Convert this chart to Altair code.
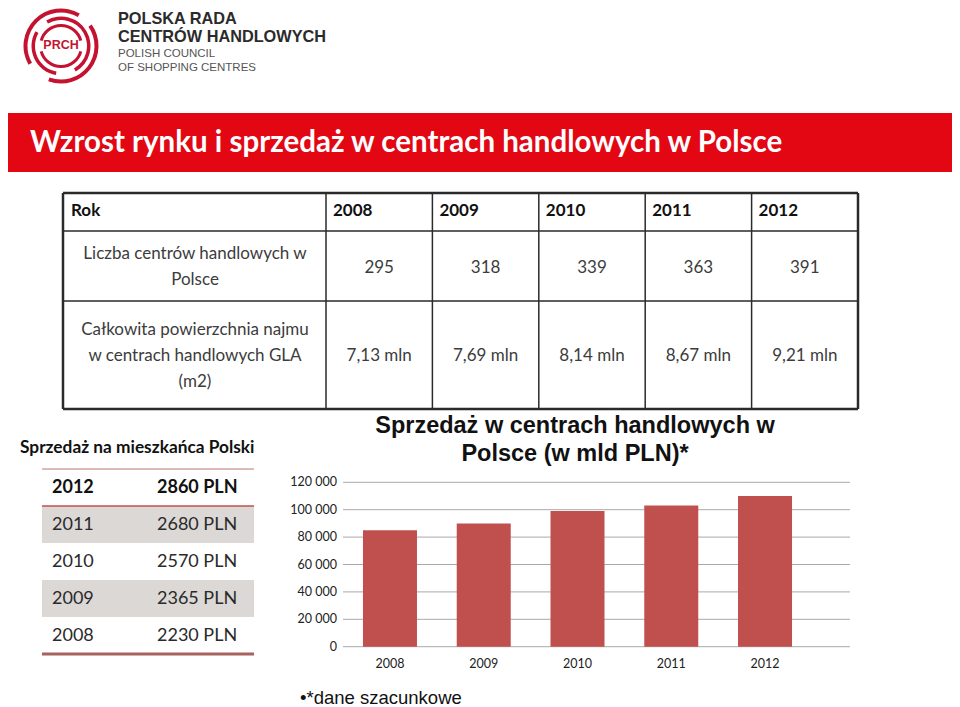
import altair as alt
import pandas as pd

# ---------------- data ----------------
years = ["2008", "2009", "2010", "2011", "2012"]
header_label = "Rok"
centers_count = ["295", "318", "339", "363", "391"]
gla_values = ["7,13 mln", "7,69 mln", "8,14 mln", "8,67 mln", "9,21 mln"]
row_labels = [
    "Liczba centrów handlowych w\nPolsce",
    "Całkowita powierzchnia najmu\nw centrach handlowych GLA\n(m2)",
]

per_capita_title = "Sprzedaż na mieszkańca Polski"
per_capita_years = ["2012", "2011", "2010", "2009", "2008"]
per_capita_values = ["2860 PLN", "2680 PLN", "2570 PLN", "2365 PLN", "2230 PLN"]

sales_title = "Sprzedaż w centrach handlowych w\nPolsce (w mld PLN)*"
sales_values = [85000, 90000, 99000, 103000, 110000]
y_ticks = [0, 20000, 40000, 60000, 80000, 100000, 120000]
y_tick_labels = ["0", "20 000", "40 000", "60 000", "80 000", "100 000", "120 000"]
footnote = "•*dane szacunkowe"

slide_title = "Wzrost rynku i sprzedaż w centrach handlowych w Polsce"
logo_lines = ["POLSKA RADA", "CENTRÓW HANDLOWYCH", "POLISH COUNCIL", "OF SHOPPING CENTRES"]
logo_mark = "PRCH"
# logo ring segments (degrees, clockwise from 12 o'clock)
outer_start = [-120, 55]
outer_end = [30, 200]
middle_start = [-30, 190]
middle_end = [150, 300]
inner_start = [-75, 105]
inner_end = [75, 255]

CAL = "Lato"
ARIAL = "Liberation Sans"
RED = "#e30613"
LOGO_RED = "#c41230"
BAR = "#c0504d"

one = pd.DataFrame({"k": [0]})


def hline(y, x1, x2, color, w):
    return alt.Chart(one).mark_rule(color=color, strokeWidth=w).encode(
        y=alt.value(y), x=alt.value(x1), x2=alt.value(x2))


def vline(x, y1, y2, color, w):
    return alt.Chart(one).mark_rule(color=color, strokeWidth=w).encode(
        x=alt.value(x), y=alt.value(y1), y2=alt.value(y2))


# ---------------- logo ----------------
LCX, LCY = 53, 38


def ring(starts, ends, r_in, r_out):
    df = pd.DataFrame({"start": starts, "end": ends})
    return alt.Chart(df).transform_calculate(
        s="datum.start * PI / 180", e="datum.end * PI / 180"
    ).mark_arc(radius=r_out, radius2=r_in, color=LOGO_RED).encode(
        theta=alt.Theta("s:Q", scale=None), theta2="e:Q",
        x=alt.value(LCX), y=alt.value(LCY))


logo_txt = pd.DataFrame({"t": logo_lines})
logo = alt.layer(
    ring(outer_start, outer_end, 33.5, 37.5),
    ring(middle_start, middle_end, 26, 29.5),
    ring(inner_start, inner_end, 19, 22),
    alt.Chart(pd.DataFrame({"t": [logo_mark]})).mark_text(
        font=ARIAL, fontWeight="bold", fontSize=12.5, color=LOGO_RED, align="center", baseline="middle"
    ).encode(text="t:N", x=alt.value(LCX), y=alt.value(LCY - 1)),
    alt.Chart(logo_txt.iloc[[0]]).mark_text(
        font=ARIAL, fontWeight="bold", fontSize=16.3, color="#2b2b2b", align="left", baseline="middle"
    ).encode(text="t:N", x=alt.value(110), y=alt.value(11)),
    alt.Chart(logo_txt.iloc[[1]]).mark_text(
        font=ARIAL, fontWeight="bold", fontSize=16.3, color="#2b2b2b", align="left", baseline="middle"
    ).encode(text="t:N", x=alt.value(110), y=alt.value(29)),
    alt.Chart(logo_txt.iloc[[2]]).mark_text(
        font=ARIAL, fontSize=11.5, color="#555555", align="left", baseline="middle"
    ).encode(text="t:N", x=alt.value(110), y=alt.value(46)),
    alt.Chart(logo_txt.iloc[[3]]).mark_text(
        font=ARIAL, fontSize=11.5, color="#555555", align="left", baseline="middle"
    ).encode(text="t:N", x=alt.value(110), y=alt.value(60)),
)

# ---------------- banner ----------------
banner = alt.layer(
    alt.Chart(one).mark_rect(color=RED).encode(
        x=alt.value(0), x2=alt.value(944), y=alt.value(105), y2=alt.value(164)),
    alt.Chart(pd.DataFrame({"t": [slide_title]})).mark_text(
        font=CAL, fontWeight="bold", fontSize=29.5, color="white", align="left", baseline="middle"
    ).encode(text="t:N", x=alt.value(22), y=alt.value(135)),
)

# ---------------- big table ----------------
tx = alt.Scale(type="band", domain=years, range=[318, 850], paddingInner=0, paddingOuter=0)
big_df = pd.DataFrame({"year": years, "count": centers_count, "gla": gla_values})
LINE = "#2a2a2a"
TXT = "#3c3c3c"
big_table = alt.layer(
    hline(185, 55, 850, LINE, 2.5),
    hline(223, 55, 850, LINE, 1.5),
    hline(293, 55, 850, LINE, 1.5),
    hline(401, 55, 850, LINE, 2.5),
    vline(55, 185, 401, LINE, 2.5),
    vline(850, 185, 401, LINE, 2.5),
    alt.Chart(big_df).mark_rule(color=LINE, strokeWidth=1.5).encode(
        x=alt.X("year:N", scale=tx, axis=None, bandPosition=0),
        y=alt.value(185), y2=alt.value(401)),
    alt.Chart(pd.DataFrame({"t": [header_label]})).mark_text(
        font=CAL, fontWeight="bold", fontSize=17, color="#111", align="left", baseline="middle"
    ).encode(text="t:N", x=alt.value(63), y=alt.value(203)),
    alt.Chart(big_df).mark_text(
        font=CAL, fontWeight="bold", fontSize=17, color="#111", align="left", baseline="middle", dx=7
    ).encode(text="year:N", x=alt.X("year:N", scale=tx, axis=None, bandPosition=0), y=alt.value(203)),
    alt.Chart(pd.DataFrame({"t": [row_labels[0]]})).mark_text(
        font=CAL, fontSize=17, color=TXT, align="center", baseline="middle", lineBreak="\n", lineHeight=26
    ).encode(text="t:N", x=alt.value(187), y=alt.value(246)),
    alt.Chart(pd.DataFrame({"t": [row_labels[1]]})).mark_text(
        font=CAL, fontSize=17, color=TXT, align="center", baseline="middle", lineBreak="\n", lineHeight=26
    ).encode(text="t:N", x=alt.value(187), y=alt.value(322)),
    alt.Chart(big_df).mark_text(
        font=CAL, fontSize=17, color=TXT, align="center", baseline="middle"
    ).encode(text="count:N", x=alt.X("year:N", scale=tx, axis=None, bandPosition=0.5), y=alt.value(260)),
    alt.Chart(big_df).mark_text(
        font=CAL, fontSize=17, color=TXT, align="center", baseline="middle"
    ).encode(text="gla:N", x=alt.X("year:N", scale=tx, axis=None, bandPosition=0.5), y=alt.value(348)),
)

# ---------------- per-capita table ----------------
pc_df = pd.DataFrame({"year": per_capita_years, "value": per_capita_values})
pc_df["row"] = range(len(pc_df))
ly = alt.Scale(type="band", domain=per_capita_years, range=[461, 646], paddingInner=0, paddingOuter=0)
left_table = alt.layer(
    alt.Chart(pc_df).transform_filter("datum.row % 2 == 1").mark_rect(color="#dbd8d6").encode(
        y=alt.Y("year:N", scale=ly, axis=None), x=alt.value(34), x2=alt.value(246)),
    hline(461, 34, 246, "#cfa3a1", 1.5),
    hline(498, 34, 246, "#c0504d", 1.5),
    hline(646, 34, 246, "#a8625e", 3),
    alt.Chart(pd.DataFrame({"t": [per_capita_title]})).mark_text(
        font=CAL, fontWeight="bold", fontSize=17.3, color="#111", align="left", baseline="middle"
    ).encode(text="t:N", x=alt.value(12), y=alt.value(440)),
    alt.Chart(pc_df).transform_filter("datum.row == 0").mark_text(
        font=CAL, fontWeight="bold", fontSize=18, color="#111", align="left", baseline="middle"
    ).encode(text="year:N", y=alt.Y("year:N", scale=ly, axis=None), x=alt.value(44)),
    alt.Chart(pc_df).transform_filter("datum.row == 0").mark_text(
        font=CAL, fontWeight="bold", fontSize=18, color="#111", align="left", baseline="middle"
    ).encode(text="value:N", y=alt.Y("year:N", scale=ly, axis=None), x=alt.value(149)),
    alt.Chart(pc_df).transform_filter("datum.row > 0").mark_text(
        font=CAL, fontSize=18, color="#2a2a2a", align="left", baseline="middle"
    ).encode(text="year:N", y=alt.Y("year:N", scale=ly, axis=None), x=alt.value(44)),
    alt.Chart(pc_df).transform_filter("datum.row > 0").mark_text(
        font=CAL, fontSize=18, color="#2a2a2a", align="left", baseline="middle"
    ).encode(text="value:N", y=alt.Y("year:N", scale=ly, axis=None), x=alt.value(149)),
)

# ---------------- bar chart ----------------
sales_df = pd.DataFrame({"year": years, "sales": sales_values})
tick_df = pd.DataFrame({"v": y_ticks, "lab": y_tick_labels})
bx = alt.Scale(type="band", domain=years, range=[335, 804], paddingInner=0.424, paddingOuter=0.213)
by = alt.Scale(domain=[0, 120000], range=[638.7, 474.3])
bar_chart = alt.layer(
    alt.Chart(tick_df).mark_rule(color="#a9a9a9", strokeWidth=1).encode(
        y=alt.Y("v:Q", scale=by, axis=None), x=alt.value(335), x2=alt.value(842)),
    alt.Chart(sales_df).mark_bar(color=BAR).encode(
        x=alt.X("year:N", scale=bx, axis=None), y=alt.Y("sales:Q", scale=by, axis=None)),
    alt.Chart(tick_df).mark_text(
        font=CAL, fontSize=12.5, color="#222", align="right", baseline="middle"
    ).encode(text="lab:N", y=alt.Y("v:Q", scale=by, axis=None), x=alt.value(329)),
    alt.Chart(sales_df).mark_text(
        font=CAL, fontSize=12.5, color="#222", align="center", baseline="middle"
    ).encode(text="year:N", x=alt.X("year:N", scale=bx, axis=None, bandPosition=0.5), y=alt.value(656)),
    alt.Chart(pd.DataFrame({"t": [sales_title]})).mark_text(
        font=ARIAL, fontWeight="bold", fontSize=23.5, color="#111", align="center", baseline="middle",
        lineBreak="\n", lineHeight=28
    ).encode(text="t:N", x=alt.value(567), y=alt.value(418)),
    alt.Chart(pd.DataFrame({"t": [footnote]})).mark_text(
        font=ARIAL, fontSize=18.5, color="#111", align="left", baseline="middle"
    ).encode(text="t:N", x=alt.value(292), y=alt.value(690)),
)

chart = alt.layer(logo, banner, big_table, left_table, bar_chart).resolve_scale(
    x="independent", y="independent"
).properties(width=944, height=691, padding=0, background="white").configure_view(stroke=None)

chart.save("out.html", embed_options={"renderer": "svg", "actions": False})
